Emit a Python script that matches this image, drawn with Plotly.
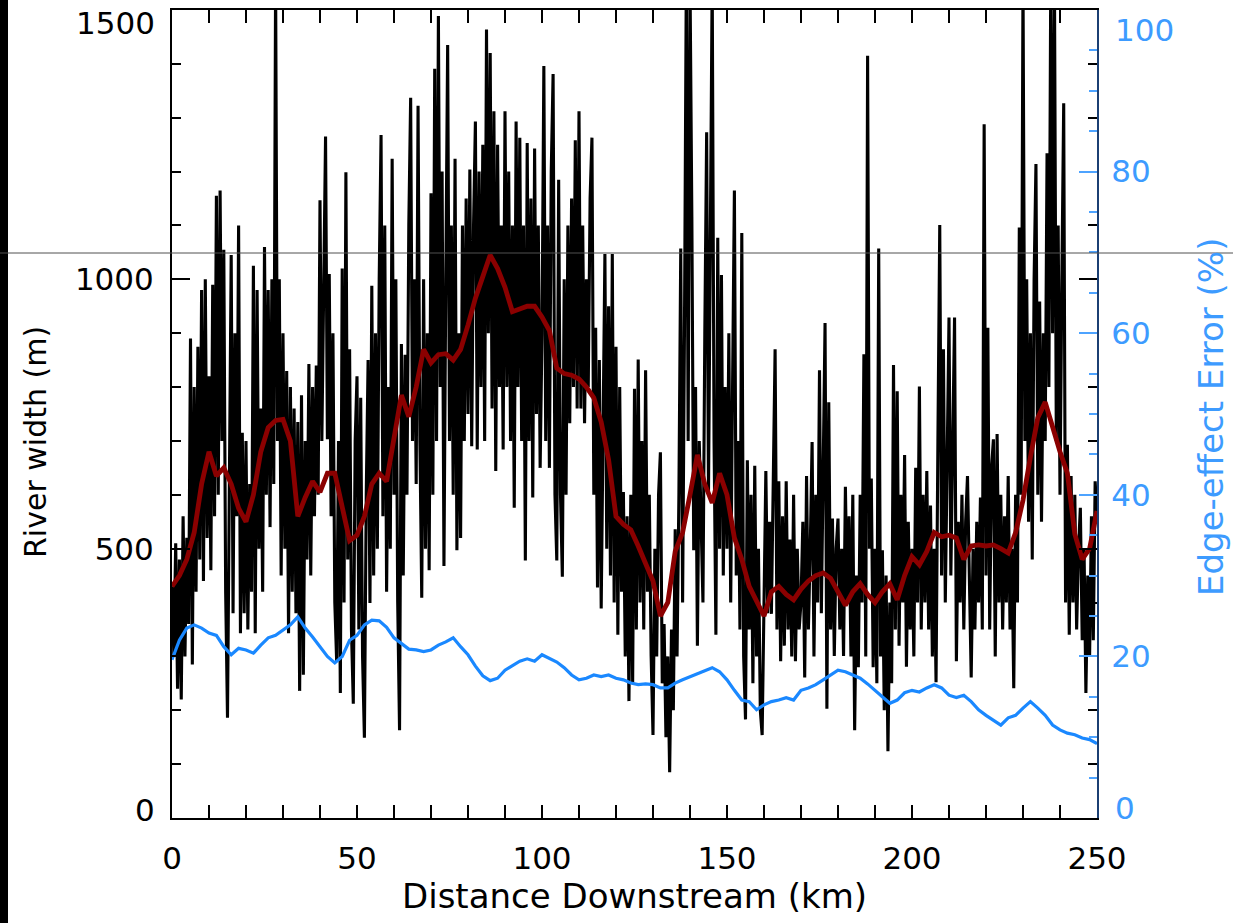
import plotly.graph_objects as go

# ---------------- data ----------------
# raw river width samples, every 0.5 km from 0 to 250 km
width_0_10 = [430, 300, 510, 240, 480, 220, 560, 300, 520, 360, 890, 285, 800, 420, 875, 480, 980, 440, 1000, 520]
width_10_20 = [820, 460, 990, 560, 1155, 600, 1165, 700, 1055, 420, 186, 640, 1045, 380, 900, 560, 1100, 343, 715, 380]
width_20_30 = [700, 350, 620, 420, 1025, 343, 980, 500, 760, 420, 1060, 600, 980, 540, 1000, 620, 1560, 700, 1000, 450]
width_30_40 = [900, 500, 830, 343, 800, 420, 760, 380, 735, 236, 785, 266, 700, 480, 843, 450, 800, 560, 840, 600]
width_40_50 = [1147, 700, 1000, 1265, 703, 1010, 560, 900, 400, 291, 700, 232, 1020, 400, 1199, 480, 870, 350, 212, 700]
width_50_60 = [820, 350, 780, 300, 149, 600, 850, 399, 988, 450, 900, 500, 1000, 1268, 560, 1100, 420, 800, 500, 1224]
width_60_70 = [600, 1000, 400, 163, 880, 450, 860, 600, 1100, 1337, 700, 1000, 620, 1322, 700, 409, 1000, 500, 900, 460]
width_70_80 = [1160, 600, 1391, 700, 1489, 800, 1200, 468, 1000, 1435, 700, 1100, 600, 1224, 497, 900, 520, 1100, 700, 1150]
width_80_90 = [750, 1204, 690, 1100, 1293, 684, 1200, 800, 1250, 700, 1464, 900, 1420, 760, 1312, 644, 1250, 800, 1100, 684]
width_90_100 = [1312, 800, 1200, 700, 1100, 576, 1293, 800, 1263, 700, 1100, 478, 1253, 700, 1150, 595, 1243, 750, 1100, 650]
width_100_110 = [900, 1396, 700, 1100, 650, 1200, 1381, 600, 478, 1185, 600, 448, 1000, 600, 1100, 733, 1150, 800, 1258, 760]
width_110_120 = [1312, 760, 1100, 733, 1000, 800, 1150, 1263, 600, 910, 428, 850, 389, 700, 1047, 500, 950, 450, 1047, 400]
width_120_130 = [875, 340, 800, 420, 605, 300, 560, 217, 600, 250, 797, 350, 851, 400, 700, 350, 831, 420, 600, 300]
width_130_140 = [154, 500, 300, 600, 679, 250, 360, 150, 300, 85, 350, 200, 536, 300, 600, 1057, 400, 900, 1560, 700]
width_140_150 = [1560, 1116, 497, 800, 320, 700, 560, 400, 900, 1273, 600, 1050, 1560, 700, 340, 1077, 500, 1008, 450, 800]
width_150_160 = [500, 900, 400, 800, 1165, 450, 700, 350, 1086, 300, 183, 664, 350, 600, 250, 654, 300, 500, 200, 154]
width_160_170 = [450, 644, 380, 550, 379, 600, 870, 350, 625, 291, 560, 320, 625, 350, 517, 300, 600, 291, 500, 350]
width_170_180 = [400, 550, 261, 635, 350, 500, 698, 300, 600, 400, 831, 380, 700, 919, 203, 772, 350, 556, 301, 500]
width_180_190 = [556, 350, 500, 301, 615, 400, 560, 300, 600, 163, 450, 280, 600, 400, 861, 300, 1415, 500, 630, 280]
width_190_200 = [500, 250, 1057, 300, 497, 200, 450, 124, 400, 250, 841, 350, 792, 320, 600, 400, 674, 281, 550, 350]
width_200_210 = [500, 300, 650, 400, 801, 350, 600, 400, 644, 350, 580, 300, 500, 252, 700, 1101, 450, 870, 400, 700]
width_210_220 = [929, 450, 700, 929, 291, 550, 400, 600, 350, 550, 635, 400, 261, 500, 350, 550, 400, 595, 350, 1288]
width_220_230 = [450, 910, 350, 650, 703, 300, 713, 400, 600, 350, 560, 400, 635, 350, 500, 241, 600, 400, 1096, 600]
width_230_240 = [1560, 700, 1000, 550, 900, 480, 1000, 1214, 600, 959, 550, 900, 700, 1234, 800, 1560, 900, 1560, 700, 1100]
width_240_250 = [600, 1000, 1327, 400, 693, 340, 635, 400, 600, 350, 500, 576, 330, 500, 232, 450, 300, 560, 330, 625, 560]

raw_width = (width_0_10 + width_10_20 + width_20_30 + width_30_40 + width_40_50 + width_50_60
             + width_60_70 + width_70_80 + width_80_90 + width_90_100 + width_100_110 + width_110_120
             + width_120_130 + width_130_140 + width_140_150 + width_150_160 + width_160_170
             + width_170_180 + width_180_190 + width_190_200 + width_200_210 + width_210_220
             + width_220_230 + width_230_240 + width_240_250)
raw_km = [i * 0.5 for i in range(len(raw_width))]

# smoothed width and edge-effect error, every 2 km
smooth_km = list(range(0, 251, 2))
smooth_width = [430, 450, 480, 530, 620, 680, 635, 650, 620, 575, 550, 600, 680, 725, 738, 740, 700, 560, 595, 625,
                605, 640, 640, 575, 515, 525, 560, 620, 640, 625, 700, 785, 745, 800, 870, 845, 860, 862, 850, 870,
                915, 965, 1005, 1045, 1020, 985, 940, 945, 950, 950, 930, 905, 835, 825, 822, 815, 800, 780, 735, 665,
                560, 545, 535, 505, 470, 440, 375, 400, 495, 530, 600, 674, 620, 585, 640, 600, 520, 480, 430, 400,
                375, 420, 430, 415, 405, 425, 440, 450, 455, 445, 420, 395, 420, 435, 415, 400, 420, 435, 405, 450,
                485, 470, 495, 530, 522, 525, 520, 480, 505, 507, 505, 507, 500, 492, 530, 590, 670, 743, 772, 725,
                680, 640, 527, 480, 500, 570]
edge_error = [19.6, 22.0, 23.5, 23.9, 23.5, 22.9, 22.6, 21.2, 20.2, 21.0, 20.8, 20.4, 21.4, 22.3, 22.6, 23.3, 23.9,
              24.9, 23.5, 22.4, 21.2, 20.0, 19.2, 20.0, 22.0, 22.6, 23.9, 24.5, 24.4, 23.6, 22.3, 21.6, 20.9, 20.8,
              20.6, 20.8, 21.4, 21.8, 22.3, 21.2, 20.2, 18.8, 17.6, 17.0, 17.3, 18.3, 18.9, 19.4, 19.7, 19.4, 20.2,
              19.8, 19.3, 18.6, 17.7, 17.1, 17.3, 17.7, 17.5, 17.7, 17.3, 17.1, 16.7, 16.5, 16.6, 16.5, 16.1, 16.1,
              16.7, 17.1, 17.5, 17.8, 18.3, 18.6, 18.1, 17.1, 15.8, 14.6, 14.4, 13.4, 14.0, 14.4, 14.6, 14.9, 14.6,
              15.8, 16.1, 16.5, 17.1, 17.7, 18.3, 18.1, 17.7, 17.3, 16.6, 15.8, 14.9, 14.2, 14.6, 15.5, 15.8, 15.6,
              16.1, 16.5, 16.1, 15.2, 14.9, 15.2, 14.4, 13.4, 12.7, 12.1, 11.5, 12.4, 12.7, 13.6, 14.4, 13.6, 12.7,
              11.5, 10.9, 10.5, 10.3, 9.9, 9.7, 9.2]

x_ticks = [0, 50, 100, 150, 200, 250]
y_ticks = [0, 500, 1000, 1500]
y_labels = ["", "500", "1000", ""]          # end labels drawn inset, as in the reference
y2_ticks = [0, 20, 40, 60, 80, 100]
y2_labels = ["", "20", "40", "60", "80", ""]

# ---------------- figure ----------------
W, H = 1233, 923
L, R, T, B = 172, 136, 10, 105
pw, ph = W - L - R, H - T - B

BLUE_TXT = "#3d9bff"
fig = go.Figure()
fig.add_trace(go.Scatter(x=raw_km, y=raw_width, mode="lines",
                         line=dict(color="black", width=3.1), showlegend=False))
fig.add_trace(go.Scatter(x=smooth_km, y=smooth_width, mode="lines",
                         line=dict(color="#8b0000", width=4.8), showlegend=False))
fig.add_trace(go.Scatter(x=smooth_km, y=edge_error, mode="lines", yaxis="y2",
                         line=dict(color="#1a88ff", width=3.2), showlegend=False))

font_main = "DejaVu Sans"
fig.update_layout(
    width=W, height=H,
    margin=dict(l=L, r=R, t=T, b=B, pad=0, autoexpand=False),
    paper_bgcolor="white", plot_bgcolor="white",
    font=dict(family=font_main, color="black"),
    xaxis=dict(range=[0, 250], tickvals=x_ticks, ticks="inside", ticklen=13, tickwidth=2,
               tickcolor="black", showline=True, linecolor="black", linewidth=2, mirror="allticks",
               showgrid=False, zeroline=False, tickfont=dict(size=31, family=font_main),
               ticklabelstandoff=12,
               minor=dict(dtick=10, ticks="inside", ticklen=7, tickwidth=2, tickcolor="black", showgrid=False)),
    yaxis=dict(range=[0, 1500], tickvals=y_ticks, ticktext=y_labels, ticks="inside", ticklen=18, tickwidth=2,
               tickcolor="black", showline=True, linecolor="black", linewidth=2, mirror="allticks",
               showgrid=False, zeroline=False, tickfont=dict(size=31, family=font_main),
               ticklabelstandoff=10,
               minor=dict(dtick=100, ticks="inside", ticklen=9, tickwidth=2, tickcolor="black", showgrid=False)),
    yaxis2=dict(range=[0, 100], tickvals=y2_ticks, ticktext=y2_labels, overlaying="y", side="right", anchor="x",
                ticks="inside", ticklen=18, tickwidth=2, tickcolor="#4da3ff",
                showline=True, linecolor="#1b3f73", linewidth=2,
                showgrid=False, zeroline=False, tickfont=dict(size=31, family=font_main, color=BLUE_TXT),
                ticklabelstandoff=6,
                minor=dict(dtick=5, ticks="inside", ticklen=8, tickwidth=1.5, tickcolor="#4da3ff", showgrid=False)),
)


def px_x(px):
    return (px - L) / pw


def px_y(py):
    return (T + ph - py) / ph


# inset end labels of the value axes
for txt, y_px in (("1500", 23), ("0", 810)):
    fig.add_annotation(text=txt, xref="paper", yref="paper", x=px_x(157), y=px_y(y_px),
                       showarrow=False, xanchor="right", yanchor="middle",
                       font=dict(size=31, family=font_main, color="black"))
for txt, y_px in (("100", 30), ("0", 808)):
    fig.add_annotation(text=txt, xref="paper", yref="paper", x=px_x(1113), y=px_y(y_px),
                       showarrow=False, xanchor="left", yanchor="middle",
                       font=dict(size=31, family=font_main, color=BLUE_TXT))

# axis titles
fig.add_annotation(text="Distance Downstream (km)", xref="paper", yref="paper",
                   x=0.5, y=px_y(896), showarrow=False,
                   font=dict(size=34, family=font_main, color="black"), xanchor="center", yanchor="middle")
fig.add_annotation(text="River width (m)", xref="paper", yref="paper",
                   x=px_x(35), y=px_y(442), showarrow=False, textangle=-90,
                   font=dict(size=30, family=font_main, color="black"), xanchor="center", yanchor="middle")
fig.add_annotation(text="Edge-effect Error (%)", xref="paper", yref="paper",
                   x=px_x(1211), y=px_y(417), showarrow=False, textangle=-90,
                   font=dict(size=34, family=font_main, color=BLUE_TXT), xanchor="center", yanchor="middle")

# black strip on the far left and thin grey horizontal line across the page
fig.add_shape(type="rect", xref="paper", yref="paper",
              x0=px_x(0), x1=px_x(8), y0=px_y(H), y1=px_y(0),
              fillcolor="black", line=dict(width=0), layer="above")
fig.add_shape(type="line", xref="paper", yref="paper",
              x0=px_x(0), x1=px_x(W), y0=px_y(253), y1=px_y(253),
              line=dict(color="#505050", width=1), layer="above")

fig.write_html("out.html", config={"displayModeBar": False},
               post_script="document.body.style.margin='0px';document.body.style.overflow='hidden';")
